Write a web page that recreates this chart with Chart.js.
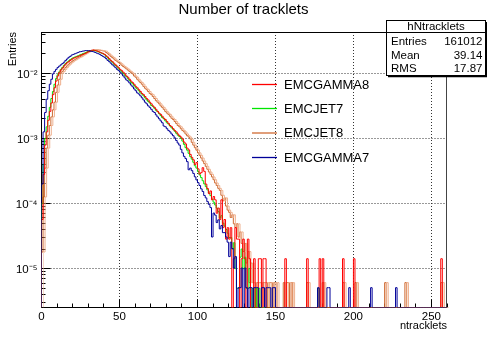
<!DOCTYPE html>
<html><head><meta charset="utf-8">
<script src="https://cdn.jsdelivr.net/npm/chart.js@4"></script>
<style>html,body{margin:0;padding:0;background:#fff}canvas{display:block}</style>
</head><body>
<canvas id="c" width="487" height="337"></canvas>
<script>
// ---------- data (normalised entries per bin, bin width 1, bins start at 0) ----------
const seriesNames = ['EMCGAMMA8', 'EMCJET7', 'EMCJET8', 'EMCGAMMA7'];

const gamma8Vals = [5.68e-5,2.8e-4,7.9e-4,1.26e-3,1.9e-3,2.6e-3,3.5e-3,4.7e-3,6.0e-3,7.6e-3,
9.1e-3,1.02e-2,1.12e-2,1.2e-2,1.29e-2,1.38e-2,1.45e-2,1.51e-2,1.58e-2,1.64e-2,
1.70e-2,1.74e-2,1.78e-2,1.82e-2,1.86e-2,1.91e-2,1.95e-2,2.0e-2,2.04e-2,2.11e-2,
2.16e-2,2.21e-2,2.26e-2,2.27e-2,2.24e-2,2.21e-2,2.16e-2,2.11e-2,2.06e-2,2.02e-2,
1.95e-2,1.86e-2,1.78e-2,1.68e-2,1.58e-2,1.51e-2,1.43e-2,1.35e-2,1.29e-2,1.22e-2,
1.15e-2,1.10e-2,1.04e-2,9.8e-3,9.1e-3,8.7e-3,8.1e-3,7.6e-3,7.2e-3,6.8e-3,
6.3e-3,6.0e-3,5.6e-3,5.25e-3,4.9e-3,4.7e-3,4.4e-3,4.1e-3,3.9e-3,3.6e-3,
3.4e-3,3.16e-3,3.0e-3,2.8e-3,2.6e-3,2.45e-3,2.34e-3,2.19e-3,2.04e-3,1.95e-3,
1.82e-3,1.7e-3,1.58e-3,1.51e-3,1.41e-3,1.32e-3,1.26e-3,1.17e-3,1.10e-3,1.05e-3,
9.8e-4,8.8e-4,8.24e-4,7.1e-4,6.67e-4,5.68e-4,5.11e-4,4.69e-4,3.98e-4,4.26e-4,
3.41e-4,2.84e-4,2.98e-4,3.55e-4,3.12e-4,1.99e-4,1.7e-4,1.42e-4,1.56e-4,1.14e-4,
1.28e-4,1.14e-4,7.1e-5,8.52e-5,5.68e-5,1.14e-4,4.26e-5,5.68e-5,2.84e-5,4.26e-5,
2.84e-5,4.26e-5,0,1.42e-5,4.26e-5,2.84e-5,2.84e-5,0,1.42e-5,2.84e-5,
1.42e-5,0,2.84e-5,1.42e-5,0,0,1.42e-5,0,0,1.42e-5,
1.42e-5,0,1.42e-5,1.42e-5,0,0,0,0,0,0,
0,0,0,0,0,0,1.42e-5,0,0,0];
const gamma8TailBins = [170,178,180,193,200,256];
const gamma8TailVals = [1.42e-5,1.42e-5,1.42e-5,1.42e-5,1.42e-5,1.42e-5];

const jet7Vals = [1.0e-4,4.0e-4,1.0e-3,1.51e-3,2.19e-3,3.0e-3,4.1e-3,5.25e-3,6.8e-3,8.3e-3,
9.5e-3,1.05e-2,1.15e-2,1.23e-2,1.32e-2,1.41e-2,1.48e-2,1.55e-2,1.62e-2,1.68e-2,
1.74e-2,1.78e-2,1.82e-2,1.86e-2,1.91e-2,1.95e-2,2.0e-2,2.04e-2,2.09e-2,2.14e-2,
2.19e-2,2.21e-2,2.24e-2,2.24e-2,2.21e-2,2.19e-2,2.14e-2,2.09e-2,2.04e-2,2.0e-2,
1.93e-2,1.82e-2,1.74e-2,1.62e-2,1.55e-2,1.48e-2,1.38e-2,1.32e-2,1.26e-2,1.17e-2,
1.12e-2,1.05e-2,1.0e-2,9.3e-3,8.9e-3,8.3e-3,7.8e-3,7.2e-3,6.9e-3,6.5e-3,
6.0e-3,5.75e-3,5.4e-3,5.0e-3,4.8e-3,4.5e-3,4.2e-3,3.9e-3,3.7e-3,3.5e-3,
3.2e-3,3.1e-3,2.9e-3,2.7e-3,2.57e-3,2.4e-3,2.24e-3,2.09e-3,2.0e-3,1.86e-3,
1.74e-3,1.66e-3,1.55e-3,1.45e-3,1.38e-3,1.29e-3,1.2e-3,1.12e-3,1.07e-3,1.0e-3,
9.1e-4,8.1e-4,7.2e-4,6.6e-4,5.9e-4,5.25e-4,4.8e-4,4.3e-4,3.8e-4,3.5e-4,
3.1e-4,2.75e-4,2.5e-4,2.24e-4,2.0e-4,1.82e-4,1.62e-4,1.45e-4,1.32e-4,1.17e-4,
1.05e-4,9.5e-5,8.5e-5,7.5e-5,6.0e-5,6.5e-5,5.0e-5,4.5e-5,4.0e-5,3.5e-5,
3.0e-5,3.0e-5,2.0e-5,2.5e-5,1.0e-5,5e-6,5e-6,1.5e-5,2.0e-5,1.0e-5,
1.5e-5,5e-6,5e-6,1.0e-5,0,5e-6,0,5e-6,0,5e-6];
const jet7TailBins = [177];
const jet7TailVals = [5e-6];

const jet8Vals = [1.8e-5,1.26e-4,3.5e-4,7.1e-4,1.12e-3,1.58e-3,2.14e-3,2.75e-3,3.6e-3,5.1e-3,
6.6e-3,8.1e-3,1.0e-2,1.07e-2,1.15e-2,1.23e-2,1.30e-2,1.38e-2,1.45e-2,1.51e-2,
1.58e-2,1.62e-2,1.68e-2,1.74e-2,1.78e-2,1.84e-2,1.91e-2,1.97e-2,2.04e-2,2.11e-2,
2.19e-2,2.24e-2,2.26e-2,2.29e-2,2.29e-2,2.29e-2,2.28e-2,2.26e-2,2.24e-2,2.21e-2,
2.19e-2,2.09e-2,2.0e-2,1.91e-2,1.82e-2,1.74e-2,1.66e-2,1.58e-2,1.53e-2,1.46e-2,
1.40e-2,1.33e-2,1.27e-2,1.22e-2,1.17e-2,1.12e-2,1.07e-2,1.02e-2,9.8e-3,9.1e-3,
8.7e-3,8.1e-3,7.6e-3,7.2e-3,6.8e-3,6.3e-3,5.9e-3,5.6e-3,5.25e-3,4.9e-3,
4.7e-3,4.4e-3,4.1e-3,3.8e-3,3.6e-3,3.4e-3,3.16e-3,3.0e-3,2.8e-3,2.6e-3,
2.45e-3,2.34e-3,2.19e-3,2.04e-3,1.95e-3,1.82e-3,1.7e-3,1.58e-3,1.51e-3,1.41e-3,
1.32e-3,1.26e-3,1.17e-3,1.10e-3,1.05e-3,9.8e-4,8.7e-4,7.9e-4,7.2e-4,6.6e-4,
6.0e-4,5.5e-4,5.0e-4,4.5e-4,4.1e-4,3.72e-4,3.36e-4,3.05e-4,2.81e-4,2.56e-4,
2.32e-4,2.07e-4,1.89e-4,1.71e-4,1.59e-4,1.34e-4,1.10e-4,1.22e-4,9.15e-5,7.93e-5,
7.32e-5,6.1e-5,6.71e-5,4.88e-5,4.27e-5,4.88e-5,3.05e-5,3.66e-5,2.44e-5,1.83e-5,
2.44e-5,1.22e-5,1.83e-5,6.1e-6,1.22e-5,6.1e-6,6.1e-6,0,6.1e-6,6.1e-6,
6.1e-6,0,6.1e-6,6.1e-6,6.1e-6,0,6.1e-6,6.1e-6,0,6.1e-6,
6.1e-6,0,0,0,0,6.1e-6,0,6.1e-6,6.1e-6,0];
const jet8TailBins = [160,170,180,193,201,220,233,256];
const jet8TailVals = [6.1e-6,6.1e-6,6.1e-6,6.1e-6,6.1e-6,6.1e-6,6.1e-6,6.1e-6];

const gamma7Vals = [2.0e-4,1.26e-3,2.5e-3,4.0e-3,5.4e-3,6.8e-3,8.1e-3,9.8e-3,1.07e-2,1.15e-2,
1.23e-2,1.29e-2,1.35e-2,1.41e-2,1.48e-2,1.58e-2,1.66e-2,1.76e-2,1.82e-2,1.91e-2,
1.95e-2,2.0e-2,2.04e-2,2.09e-2,2.14e-2,2.16e-2,2.19e-2,2.21e-2,2.24e-2,2.23e-2,
2.22e-2,2.19e-2,2.16e-2,2.14e-2,2.09e-2,2.04e-2,2.0e-2,1.95e-2,1.88e-2,1.82e-2,
1.76e-2,1.68e-2,1.58e-2,1.51e-2,1.43e-2,1.35e-2,1.29e-2,1.22e-2,1.15e-2,1.10e-2,
1.04e-2,9.8e-3,9.1e-3,8.5e-3,7.9e-3,7.6e-3,7.1e-3,6.6e-3,6.2e-3,5.75e-3,
5.4e-3,5.0e-3,4.8e-3,4.5e-3,4.2e-3,3.9e-3,3.6e-3,3.4e-3,3.16e-3,3.0e-3,
2.8e-3,2.6e-3,2.5e-3,2.3e-3,2.14e-3,2.0e-3,1.86e-3,1.74e-3,1.55e-3,1.51e-3,
1.41e-3,1.32e-3,1.26e-3,1.17e-3,1.10e-3,1.02e-3,9.3e-4,8.5e-4,7.9e-4,6.8e-4,
6.0e-4,5.3e-4,4.9e-4,4.4e-4,3.3e-4,3.5e-4,3.2e-4,2.9e-4,2.57e-4,2.3e-4,
2.09e-4,1.89e-4,1.68e-4,1.53e-4,1.33e-4,1.22e-4,1.07e-4,9.69e-5,8.67e-5,3.06e-5,
7.14e-5,6.63e-5,5.1e-5,5.61e-5,4.08e-5,4.59e-5,3.57e-5,3.57e-5,3.06e-5,2.55e-5,
1.53e-5,2.55e-5,2.04e-5,1.02e-5,1.53e-5,0,5.1e-6,5.1e-6,1.02e-5,0,
1.02e-5,5.1e-6,0,5.1e-6,5.1e-6,0,5.1e-6,5.1e-6,5.1e-6,0,
0,5.1e-6,5.1e-6,0,5.1e-6,5.1e-6,5.1e-6,0,5.1e-6,5.1e-6];
const gamma7TailBins = [177,183,184,197,211,227];
const gamma7TailVals = [5.1e-6,5.1e-6,5.1e-6,5.1e-6,5.1e-6,5.1e-6];

const xTickValues = [0, 50, 100, 150, 200, 250];
const xTickLabels = ['0', '50', '100', '150', '200', '250'];
const yTickValues = [1e-5, 1e-4, 1e-3, 1e-2];
const yTickLabels = ['10\u207B\u2075', '10\u207B\u2074', '10\u207B\u00B3', '10\u207B\u00B2'];

const statsName = 'hNtracklets';
const statsLabels = ['Entries', 'Mean', 'RMS'];
const statsValues = ['161012', '39.14', '17.87'];
const chartTitle = 'Number of tracklets';
const xTitle = 'ntracklets';
const yTitle = 'Entries';

// ---------- setup ----------
const NBINS = 260;
const X_MIN = 0, X_MAX = 260;
const Y_MIN = 2.53e-6, Y_MAX = 0.0431;
const FONT = '"Liberation Sans", Arial, Helvetica, sans-serif';
const colors = {
  EMCGAMMA8: '#ff0000',
  EMCJET7: '#00e600',
  EMCJET8: '#cf6a32',
  EMCGAMMA7: '#000099'
};

function histPoints(dense, tailBins, tailVals) {
  const v = new Array(NBINS).fill(0);
  dense.forEach((y, i) => { v[i] = y; });
  tailBins.forEach((b, k) => { v[b] = tailVals[k]; });
  const pts = [{x: X_MIN, y: Y_MIN}];
  for (let i = 0; i < NBINS; i++) pts.push({x: i, y: v[i] > 0 ? v[i] : Y_MIN});
  pts.push({x: NBINS, y: v[NBINS - 1] > 0 ? v[NBINS - 1] : Y_MIN});
  return pts;
}

const jet8Points = histPoints(jet8Vals, jet8TailBins, jet8TailVals);
function ds(label, data, color, extra) {
  return Object.assign({label, data, borderColor: color, borderWidth: 1, stepped: true,
    pointRadius: 0, fill: false, tension: 0}, extra || {});
}
const datasets = [
  ds('EMCGAMMA7', histPoints(gamma7Vals, gamma7TailBins, gamma7TailVals), colors.EMCGAMMA7),
  ds('EMCGAMMA8', histPoints(gamma8Vals, gamma8TailBins, gamma8TailVals), colors.EMCGAMMA8),
  ds('EMCJET7', histPoints(jet7Vals, jet7TailBins, jet7TailVals), colors.EMCJET7),
  ds('EMCJET8 ghost', jet8Points, '#eeb08e', {ghost: true}),
  ds('EMCJET8', jet8Points, colors.EMCJET8)
];

function seg(ctx, x1, y1, x2, y2) { ctx.beginPath(); ctx.moveTo(x1, y1); ctx.lineTo(x2, y2); ctx.stroke(); }

const rootStyle = {
  id: 'rootStyle',
  beforeDatasetsDraw(chart) {
    const {ctx, chartArea: a, scales: {x, y}} = chart;
    ctx.save();
    ctx.lineWidth = 1;
    // dotted grid
    ctx.strokeStyle = '#333';
    ctx.setLineDash([1, 2]);
    xTickValues.forEach(v => {
      if (v <= X_MIN) return;
      const px = Math.floor(x.getPixelForValue(v)) + 0.5;
      seg(ctx, px, a.top, px, a.bottom);
    });
    yTickValues.forEach(v => {
      const py = Math.floor(y.getPixelForValue(v)) + 0.5;
      seg(ctx, a.left, py, a.right, py);
    });
    ctx.setLineDash([]);
    // frame
    ctx.strokeStyle = '#000';
    seg(ctx, a.left, a.top + 0.5, a.right, a.top + 0.5);
    seg(ctx, a.left, a.bottom, a.right, a.bottom);
    seg(ctx, a.left, a.top, a.left, a.bottom + 0.5);
    ctx.strokeStyle = '#444';
    seg(ctx, a.right - 0.5, a.top, a.right - 0.5, a.bottom + 0.5);
    // ticks (inward)
    ctx.strokeStyle = '#000';
    for (let v = X_MIN; v <= X_MAX; v += 10) {
      const len = v % 50 === 0 ? 8 : 4;
      const px = Math.floor(x.getPixelForValue(v)) + 0.5;
      seg(ctx, px, a.bottom, px, a.bottom - len);
    }
    for (let e = -6; e <= -1; e++) {
      for (let m = 1; m <= 9; m++) {
        const val = m * Math.pow(10, e);
        if (val < Y_MIN || val > Y_MAX) continue;
        const len = m === 1 ? 9 : 4;
        const py = Math.floor(y.getPixelForValue(val)) + 0.5;
        seg(ctx, a.left, py, a.left + len, py);
      }
    }
    ctx.restore();
  },
  beforeDatasetDraw(chart, args) {
    const d = chart.data.datasets[args.index];
    if (d.ghost) { chart.ctx.save(); chart.ctx.translate(2, 0); }
  },
  afterDatasetDraw(chart, args) {
    const d = chart.data.datasets[args.index];
    if (d.ghost) chart.ctx.restore();
  },
  afterDraw(chart) {
    const {ctx, chartArea: a} = chart;
    ctx.save();
    ctx.fillStyle = '#000';
    // title
    ctx.font = '15px ' + FONT;
    ctx.textAlign = 'center'; ctx.textBaseline = 'middle';
    ctx.fillText(chartTitle, 243.5, 10);
    // axis titles
    ctx.font = '11px ' + FONT;
    ctx.textAlign = 'right';
    ctx.fillText(xTitle, a.right, 326);
    ctx.save();
    ctx.translate(13, a.top);
    ctx.rotate(-Math.PI / 2);
    ctx.textAlign = 'right';
    ctx.fillText(yTitle, 0, 0);
    ctx.restore();
    // legend
    const legY = [84.5, 108.5, 133, 157.5];
    ctx.font = '13px ' + FONT;
    ctx.textAlign = 'left';
    seriesNames.forEach((n, i) => {
      ctx.strokeStyle = colors[n];
      ctx.lineWidth = 1.3;
      seg(ctx, 252, legY[i], 277, legY[i]);
      ctx.fillStyle = '#000';
      ctx.fillText(n, 284, legY[i] + 0.5);
    });
    // stats box
    ctx.lineWidth = 1;
    ctx.fillStyle = '#fff';
    ctx.fillRect(386.5, 20.5, 99, 55);
    ctx.strokeStyle = '#000';
    ctx.strokeRect(386.5, 20.5, 99, 55);
    ctx.lineWidth = 1.5;
    seg(ctx, 486.3, 22, 486.3, 77);
    seg(ctx, 388, 76.5, 487, 76.5);
    ctx.lineWidth = 1;
    seg(ctx, 386.5, 32.5, 485.5, 32.5);
    ctx.fillStyle = '#000';
    ctx.font = '11.5px ' + FONT;
    ctx.textAlign = 'center';
    ctx.fillText(statsName, 436, 27);
    const rowY = [42, 55.5, 69];
    statsLabels.forEach((l, i) => {
      ctx.textAlign = 'left';
      ctx.fillText(l, 391, rowY[i]);
      ctx.textAlign = 'right';
      ctx.fillText(statsValues[i], 482.5, rowY[i]);
    });
    ctx.restore();
  }
};

new Chart(document.getElementById('c'), {
  type: 'line',
  data: {datasets},
  options: {
    responsive: false,
    animation: false,
    events: [],
    layout: {padding: {top: 32, right: 40, left: 0, bottom: 0}},
    plugins: {legend: {display: false}, tooltip: {enabled: false}, title: {display: false}},
    scales: {
      x: {
        type: 'linear', min: X_MIN, max: X_MAX,
        grid: {display: false, drawTicks: false},
        border: {display: false},
        afterBuildTicks: s => { s.ticks = xTickValues.map(v => ({value: v})); },
        afterFit: s => { s.height = 29.5; },
        ticks: {
          autoSkip: false, maxRotation: 0, padding: 2, color: '#000',
          font: {family: FONT, size: 11.5},
          callback: (v, i) => xTickLabels[i]
        }
      },
      y: {
        type: 'logarithmic', min: Y_MIN, max: Y_MAX,
        grid: {display: false, drawTicks: false},
        border: {display: false},
        afterBuildTicks: s => { s.ticks = yTickValues.map(v => ({value: v})); },
        afterFit: s => { s.width = 41.5; },
        ticks: {
          autoSkip: false, padding: 4, color: '#000', labelOffset: 1.5,
          font: {family: FONT, size: 11.5},
          callback: (v, i) => yTickLabels[i]
        }
      }
    }
  },
  plugins: [rootStyle]
});
</script>
</body></html>
